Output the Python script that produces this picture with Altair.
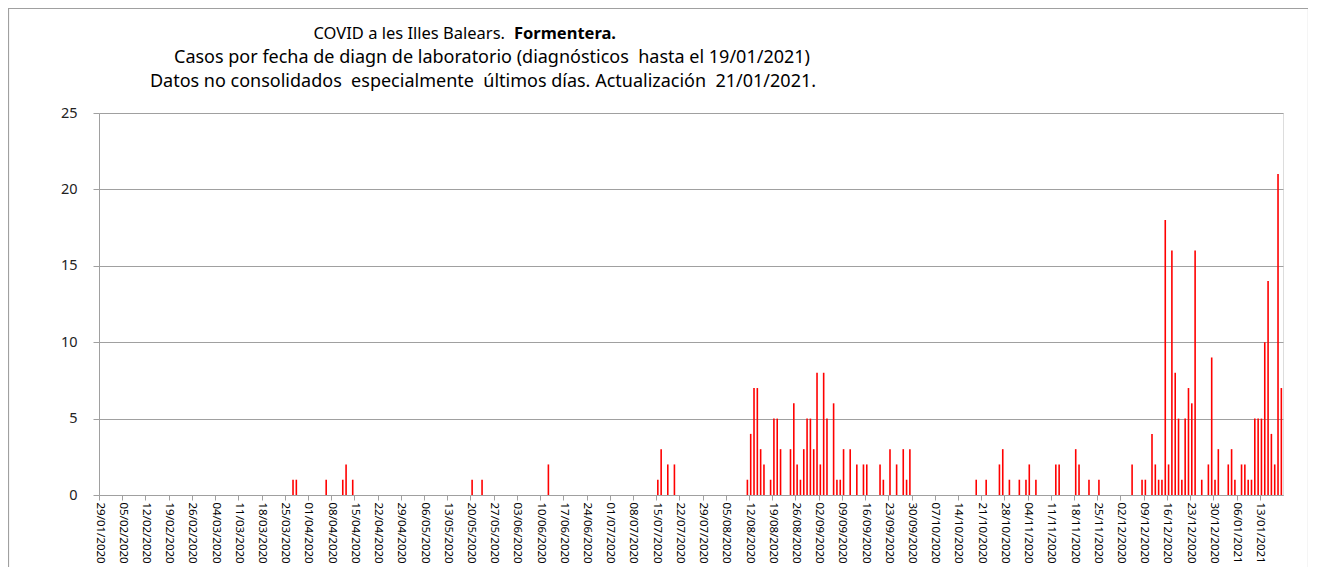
import altair as alt
import pandas as pd

# ---- data (daily cases, days not listed are 0) ----
dates = [
    "2020-03-27", "2020-03-28", "2020-04-06", "2020-04-11", "2020-04-12", "2020-04-14",
    "2020-05-20", "2020-05-23", "2020-06-12",
    "2020-07-15", "2020-07-16", "2020-07-18", "2020-07-20",
    "2020-08-11", "2020-08-12", "2020-08-13", "2020-08-14", "2020-08-15", "2020-08-16",
    "2020-08-18", "2020-08-19", "2020-08-20", "2020-08-21", "2020-08-24", "2020-08-25",
    "2020-08-26", "2020-08-27", "2020-08-28", "2020-08-29", "2020-08-30", "2020-08-31",
    "2020-09-01", "2020-09-02", "2020-09-03", "2020-09-04", "2020-09-06", "2020-09-07",
    "2020-09-08", "2020-09-09", "2020-09-11", "2020-09-13", "2020-09-15", "2020-09-16",
    "2020-09-20", "2020-09-21", "2020-09-23", "2020-09-25", "2020-09-27", "2020-09-28",
    "2020-09-29",
    "2020-10-19", "2020-10-22", "2020-10-26", "2020-10-27", "2020-10-29",
    "2020-11-01", "2020-11-03", "2020-11-04", "2020-11-06", "2020-11-12", "2020-11-13",
    "2020-11-18", "2020-11-19", "2020-11-22", "2020-11-25",
    "2020-12-05", "2020-12-08", "2020-12-09", "2020-12-11", "2020-12-12", "2020-12-13",
    "2020-12-14", "2020-12-15", "2020-12-16", "2020-12-17", "2020-12-18", "2020-12-19",
    "2020-12-20", "2020-12-21", "2020-12-22", "2020-12-23", "2020-12-24", "2020-12-26",
    "2020-12-28", "2020-12-29", "2020-12-30", "2020-12-31",
    "2021-01-03", "2021-01-04", "2021-01-05", "2021-01-07", "2021-01-08", "2021-01-09",
    "2021-01-10", "2021-01-11", "2021-01-12", "2021-01-13", "2021-01-14", "2021-01-15",
    "2021-01-16", "2021-01-17", "2021-01-18", "2021-01-19",
]
cases = [
    1, 1, 1, 1, 2, 1,
    1, 1, 2,
    1, 3, 2, 2,
    1, 4, 7, 7, 3, 2,
    1, 5, 5, 3, 3, 6,
    2, 1, 3, 5, 5, 3,
    8, 2, 8, 5, 6, 1,
    1, 3, 3, 2, 2, 2,
    2, 1, 3, 2, 3, 1,
    3,
    1, 1, 2, 3, 1,
    1, 1, 2, 1, 2, 2,
    3, 2, 1, 1,
    2, 1, 1, 4, 2, 1,
    1, 18, 2, 16, 8, 5,
    1, 5, 7, 6, 16, 1,
    2, 9, 1, 3,
    2, 3, 1, 2, 2, 1,
    1, 5, 5, 5, 10, 14,
    4, 2, 21, 7,
]

tick_dates = pd.date_range("2020-01-29", "2021-01-13", freq="7D")
tick_values = [int(t.value // 10**6) for t in tick_dates]
y_ticks = [0, 5, 10, 15, 20, 25]

NB = "\u00a0"
title_1a = "COVID a les Illes Balears."
title_1b = "Formentera."
title_2 = "Casos por fecha de diagn de laboratorio (diagnósticos" + NB + " hasta el 19/01/2021)"
title_3 = ("Datos no consolidados" + NB + " especialmente" + NB + " últimos días. Actualización"
           + NB + " 21/01/2021.")

FONT = "Noto Sans"
GRID = "#a0a0a0"

W, H = 1184, 382
PAD = {"left": 91, "top": 105, "right": 25, "bottom": 72}

df = pd.DataFrame({"date": dates, "cases": cases})

bars = alt.Chart(df).mark_rule(color="#FF0000", strokeWidth=1.6).encode(
    x=alt.X(
        "utcyearmonthdate(date):T",
        bandPosition=0.5,
        title=None,
        scale=alt.Scale(domain=[
            alt.DateTime(year=2020, month=1, date=29, utc=True),
            alt.DateTime(year=2021, month=1, date=20, utc=True),
        ]),
        axis=alt.Axis(
            values=tick_values,
            labelExpr="utcFormat(datum.value, '%d/%m/%Y')",
            labelAngle=90,
            labelFont=FONT,
            labelFontSize=11.5,
            labelColor="#000000",
            labelPadding=2,
            labelOverlap=False,
            labelFlush=False,
            tickSize=5,
            tickColor=GRID,
            domainColor=GRID,
            grid=False,
        ),
    ),
    y=alt.Y(
        "cases:Q",
        title=None,
        scale=alt.Scale(domain=[0, 25]),
        axis=alt.Axis(
            values=y_ticks,
            labelFont=FONT,
            labelFontSize=14.5,
            labelColor="#222222",
            labelPadding=16,
            tickSize=6,
            tickColor=GRID,
            domainColor=GRID,
            grid=True,
            gridColor=GRID,
            gridWidth=1,
        ),
    ),
    y2=alt.datum(0),
)


def text_layer(txt, x, y, align, size, weight="normal"):
    return alt.Chart(pd.DataFrame({"t": [txt]})).mark_text(
        font=FONT, fontSize=size, align=align, baseline="middle",
        fontWeight=weight, color="#000000",
    ).encode(text="t:N", x=alt.value(x), y=alt.value(y))


t1a = text_layer(title_1a, 406, -79, "right", 16.5)
t1b = text_layer(title_1b, 415, -79, "left", 16.5, "bold")
t2 = text_layer(title_2, 393, -55, "center", 18)
t3 = text_layer(title_3, 384, -31, "center", 18)

# thin grey frame around the whole chart area (as in the reference)
frame = alt.Chart(pd.DataFrame({"f": [0]})).mark_rect(
    fill=None, stroke="#a0a0a0", strokeWidth=1.2
).encode(
    x=alt.value(-90.5),
    x2=alt.value(W + 25.5),
    y=alt.value(-104.5),
    y2=alt.value(H + PAD["bottom"] + 10),
)

chart = alt.layer(frame, bars, t1a, t1b, t2, t3).properties(
    width=W,
    height=H,
    autosize=alt.AutoSizeParams(type="none"),
    padding=PAD,
).configure_view(stroke=None).configure(background="white")

chart.save("out.html", embed_options={"renderer": "svg", "actions": False})
